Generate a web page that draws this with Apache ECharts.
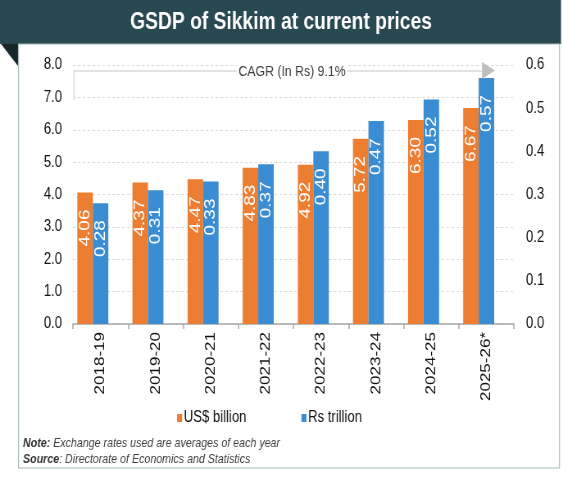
<!DOCTYPE html>
<html>
<head>
<meta charset="utf-8">
<script src="https://cdn.jsdelivr.net/npm/echarts@6/dist/echarts.min.js"></script>
<style>
html,body{margin:0;padding:0;background:#fff;overflow:hidden;width:563px;height:478px;}
#c{width:687px;height:478px;transform:scaleX(0.8195);transform-origin:0 0;}
</style>
</head>
<body>
<div id="c"></div>
<script>
const categories = ['2018-19','2019-20','2020-21','2021-22','2022-23','2023-24','2024-25','2025-26*'];
const usdBillion = [4.06,4.37,4.47,4.83,4.92,5.72,6.30,6.67];
const rsTrillion = [0.28,0.31,0.33,0.37,0.40,0.47,0.52,0.57];
const leftTicks = {min:0,max:8,interval:1};
const rightTicks = {min:0,max:0.6,interval:0.1};
const titleText = 'GSDP of Sikkim at current prices';
const cagrText = 'CAGR (In Rs) 9.1%';

// The reference is horizontally condensed; the chart is drawn wider and squeezed by CSS (scaleX 0.8195).
const S = 0.8195;
const X = v => v / S;   // convert reference-pixel x to chart x
const SANS = "'Liberation Sans',Arial,sans-serif";
const ORANGE = '#ED7D31';
const BLUE = '#3A8DD2';

const chart = echarts.init(document.getElementById('c'));

const barLabel = {
  show: true,
  position: 'insideTop',
  distance: 17,
  rotate: 90,
  align: 'right',
  verticalAlign: 'middle',
  color: '#fff',
  fontSize: 19,
  fontFamily: SANS,
  formatter: p => p.value.toFixed(2)
};

chart.setOption({
  backgroundColor: '#fff',
  animation: false,
  grid: {left: X(73), right: X(49), top: 65, bottom: 154},
  legend: {
    data: ['US$ billion','Rs trillion'],
    left: X(173), top: 405,
    itemWidth: X(5), itemHeight: 8, itemGap: X(55),
    icon: 'rect',
    textStyle: {fontSize: 16, fontFamily: SANS, color: '#111', padding: [0,0,0,-3]}
  },
  xAxis: {
    type: 'category',
    data: categories,
    axisLine: {lineStyle: {color: '#a6a6a6', width: 1.5}},
    axisTick: {show: true, length: 5, lineStyle: {color: '#a6a6a6', width: 1.5}},
    axisLabel: {rotate: 90, margin: 8, fontSize: 17, fontFamily: SANS, color: '#111'}
  },
  yAxis: [
    {
      type: 'value', min: leftTicks.min, max: leftTicks.max, interval: leftTicks.interval,
      axisLine: {show: false}, axisTick: {show: false},
      axisLabel: {margin: X(11), fontSize: 16, fontFamily: SANS, color: '#111', formatter: v => v.toFixed(1)},
      splitLine: {lineStyle: {color: '#d9d9d9', type: [3,3]}}
    },
    {
      type: 'value', min: rightTicks.min, max: rightTicks.max, interval: rightTicks.interval,
      axisLine: {show: false}, axisTick: {show: false},
      axisLabel: {margin: X(12), fontSize: 16, fontFamily: SANS, color: '#111', formatter: v => v.toFixed(1)},
      splitLine: {show: false}
    }
  ],
  series: [
    {name: 'US$ billion', type: 'bar', yAxisIndex: 0, data: usdBillion, barWidth: X(15.5), barGap: '0%',
     itemStyle: {color: ORANGE}, label: barLabel},
    {name: 'Rs trillion', type: 'bar', yAxisIndex: 1, data: rsTrillion, barWidth: X(15.5), barGap: '0%',
     itemStyle: {color: BLUE}, label: barLabel},
    {name: 'spacer', type: 'bar', yAxisIndex: 0, data: [], barWidth: X(15.5), barGap: '0%'}
  ],
  graphic: {
    elements: [
      {type: 'rect', z: -10, shape: {x: 0, y: 0, width: X(561), height: 44}, style: {fill: '#284951'}},
      {type: 'rect', z: -10, shape: {x: X(18.5), y: 44, width: X(541), height: 424}, style: {fill: '#fff', stroke: '#aab8bc', lineWidth: 1.2}},
      {type: 'polygon', z: -9, shape: {points: [[X(1),44],[X(18),44],[X(18),66]]}, style: {fill: '#16272b'}},
      {type: 'text', z: 50, x: X(281), y: 23,
       style: {text: titleText, fill: '#fff', font: "bold 23.5px " + SANS, textAlign: 'center', textVerticalAlign: 'middle'}},
      {type: 'polyline', z: 50, shape: {points: [[X(74),100],[X(74),71],[X(482),71]]}, style: {stroke: '#e2e2e2', lineWidth: 2, fill: null}},
      {type: 'polygon', z: 50, shape: {points: [[X(482),62],[X(495),70.5],[X(482),79]]}, style: {fill: '#bfbfbf'}},
      {type: 'text', z: 51, x: X(292), y: 72,
       style: {text: cagrText, fill: '#404040', font: "15px " + SANS, textAlign: 'center', textVerticalAlign: 'middle',
               backgroundColor: '#fff', padding: [1,2]}},
      {type: 'text', z: 50, x: X(23), y: 443,
       style: {text: '{b|Note:} Exchange rates used are averages of each year',
               textVerticalAlign: 'middle',
               rich: {b: {font: "italic bold 13px " + SANS, fill: '#333'}},
               font: "italic 13px " + SANS, fill: '#404040'}},
      {type: 'text', z: 50, x: X(23), y: 459,
       style: {text: '{b|Source}: Directorate of Economics and Statistics',
               textVerticalAlign: 'middle',
               rich: {b: {font: "italic bold 13px " + SANS, fill: '#333'}},
               font: "italic 13px " + SANS, fill: '#404040'}}
    ]
  }
});
</script>
</body>
</html>
